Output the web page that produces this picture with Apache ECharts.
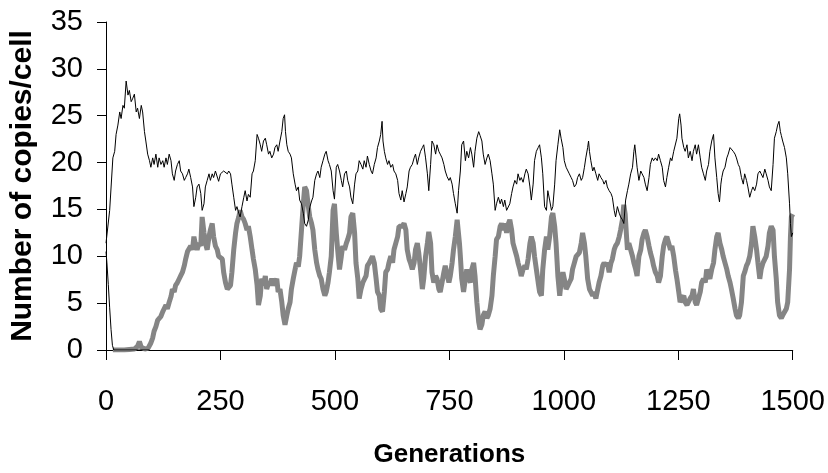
<!DOCTYPE html>
<html><head><meta charset="utf-8">
<script src="https://cdn.jsdelivr.net/npm/echarts@6/dist/echarts.min.js"></script>
<style>html,body{margin:0;padding:0;background:#fff;overflow:hidden}#c{width:828px;height:473px}</style>
</head><body><div id="c"></div>
<script>
// Black series (upper)
var genA = [0,8,15,19,22,26,30,33,37,40,44,48,51,55,58,62,66,69,73,77,80,84,87,91,95,98,102,105,109,113,116,120,124,127,131,134,138,142,145,149,152,156,160,163,167,171,174,178,181,185,189,192,196,199,203,207,210,214,217,221,225,228,232,235,239,243,246,250,257,261,265,268,272,275,279,283,286,290,293,297,301,304,308,311,315,319,322,326,330,333,337,340,344,348,351,355,358,362,366,369,373,376,380,384,387,390,392,395,398,402,405,409,413,416,420,423,427,431,434,438,442,445,449,452,456,460,463,467,470,474,478,481,485,488,492,496,499,503,506,510,514,517,521,525,528,532,535,539,543,546,550,553,557,561,564,568,571,575,579,582,586,590,593,597,600,603,605,608,611,615,618,622,626,629,633,637,640,644,647,651,655,658,662,665,669,673,676,680,683,687,691,694,698,702,705,709,712,716,720,723,727,730,734,738,741,745,749,752,756,759,763,767,770,774,777,781,785,788,792,796,799,803,806,810,814,817,821,824,828,832,835,839,843,846,850,853,857,861,864,868,871,875,879,882,886,889,893,897,900,904,907,911,915,918,922,926,929,933,936,940,944,947,951,954,958,962,965,969,973,976,980,983,987,991,994,998,1001,1005,1009,1012,1016,1019,1023,1027,1030,1034,1038,1041,1045,1048,1052,1054,1056,1059,1063,1066,1070,1074,1077,1081,1085,1088,1092,1095,1099,1103,1106,1110,1113,1117,1121,1124,1128,1131,1135,1139,1142,1146,1150,1153,1155,1158,1160,1164,1168,1171,1175,1178,1182,1186,1189,1193,1196,1200,1204,1207,1211,1215,1218,1222,1225,1229,1233,1236,1240,1244,1247,1251,1253,1256,1258,1262,1265,1269,1272,1276,1280,1283,1287,1290,1294,1298,1301,1305,1309,1312,1316,1319,1323,1327,1330,1334,1337,1340,1343,1345,1348,1352,1356,1359,1363,1366,1370,1374,1377,1381,1384,1388,1392,1395,1399,1402,1406,1410,1413,1417,1421,1424,1428,1431,1435,1439,1442,1446,1449,1453,1457,1460,1464,1467,1470,1473,1475,1478,1482,1486,1489,1493,1495,1497,1500];
var valA = [11.4,14.9,20.5,21.2,23.0,24.0,25.4,24.7,26.1,25.8,28.7,27.2,27.7,26.5,26.8,27.3,25.4,25.8,24.7,26.1,25.4,23.3,22.3,20.9,20.2,19.5,20.5,19.8,20.9,19.5,20.5,19.8,20.2,19.5,20.5,19.8,20.9,20.2,18.8,18.1,19.1,19.8,20.2,19.1,18.8,18.1,18.4,18.8,19.3,18.4,17.4,15.3,16.3,17.4,17.7,16.7,14.9,15.6,17.4,18.1,18.8,18.1,18.8,18.4,19.1,19.3,18.0,18.8,19.1,19.3,18.8,19.1,18.8,17.7,16.3,14.9,15.3,14.6,14.2,15.3,16.3,17.0,15.9,16.6,16.3,18.8,19.1,20.2,23.0,22.6,21.9,21.2,22.3,22.6,21.9,20.9,21.2,20.5,20.9,21.6,21.9,21.2,22.3,23.3,24.7,25.1,23.3,21.9,21.2,20.9,20.5,18.8,17.7,17.0,17.4,16.0,15.6,14.6,13.5,13.2,13.9,15.2,15.9,16.3,18.1,18.8,19.1,18.4,19.5,20.2,20.9,21.2,20.2,19.8,19.1,17.0,16.1,19.5,19.8,19.1,18.1,17.4,18.8,19.1,18.1,17.4,16.3,15.6,17.7,18.8,19.1,20.2,19.8,19.3,20.2,19.5,20.7,19.8,19.1,18.8,19.8,20.5,21.6,22.3,23.0,24.4,22.3,21.2,20.5,19.8,20.2,19.5,19.8,19.1,18.8,18.1,16.7,16.0,17.0,15.8,16.7,17.4,19.1,19.5,19.8,20.5,20.9,19.8,20.5,21.2,21.6,21.9,20.5,18.8,17.0,19.8,22.3,21.9,20.9,21.9,21.2,20.9,20.5,19.8,19.1,18.5,18.1,18.4,17.7,16.7,15.6,14.6,17.0,19.1,21.9,22.3,20.2,21.2,20.5,21.6,20.9,19.5,21.2,22.6,23.3,22.9,22.3,20.9,19.8,20.5,20.9,20.2,18.8,17.7,14.9,15.6,16.3,15.6,16.1,15.3,16.0,14.9,14.7,15.6,16.7,17.4,18.1,17.7,18.8,18.1,18.4,17.9,18.8,19.3,18.8,17.4,16.0,17.7,20.2,21.2,21.6,21.9,20.5,18.8,15.3,14.9,17.0,16.0,14.9,15.3,17.7,20.2,21.9,23.5,22.6,21.6,20.2,19.5,19.1,18.8,18.4,18.1,17.4,17.7,18.4,18.8,18.1,18.4,19.5,20.5,21.6,22.3,21.2,20.2,19.1,19.5,18.8,18.1,18.8,18.4,18.1,17.7,18.1,17.4,17.0,16.7,16.3,14.9,14.2,15.3,14.6,14.2,13.9,13.5,16.0,17.0,17.7,18.8,19.5,21.2,21.9,20.5,19.5,18.1,19.1,18.8,18.4,17.7,17.0,18.4,19.8,20.5,20.2,20.5,20.2,20.9,20.2,19.5,18.1,17.4,18.4,19.5,20.5,20.2,21.2,21.0,22.6,24.7,25.2,24.0,22.6,21.6,21.2,21.9,20.5,21.2,20.2,21.2,21.9,20.9,21.9,20.5,19.5,18.8,18.1,19.1,19.8,21.2,22.3,23.0,20.5,18.4,16.7,15.8,17.7,18.4,19.1,19.5,20.5,20.9,21.6,21.7,21.2,20.9,20.5,19.8,19.5,18.4,17.7,18.8,18.1,17.4,16.3,17.0,17.4,17.0,17.7,18.8,19.1,18.8,18.4,19.3,18.8,18.1,17.4,17.0,19.8,22.6,23.3,24.0,24.4,23.3,22.9,22.3,21.6,20.5,18.8,15.6,13.5,12.1,12.5];

// Gray series (lower, thick)
var genB = [15,40,62,69,73,77,85,92,98,102,105,109,113,116,120,124,127,131,134,138,142,145,149,152,156,160,163,167,171,174,178,181,185,189,192,196,199,203,207,210,214,217,221,225,228,232,235,239,243,246,250,254,257,261,265,268,272,275,279,283,286,290,293,297,301,304,308,311,315,319,322,326,330,333,337,340,344,348,351,355,358,362,366,369,373,376,380,384,387,391,395,398,402,405,409,413,416,420,423,427,431,434,438,442,445,449,452,456,460,463,467,470,474,478,481,485,488,492,496,499,503,506,510,514,517,521,525,528,532,535,539,543,546,550,553,557,561,564,568,571,575,579,582,586,590,593,597,600,604,608,611,615,618,622,626,629,633,637,640,644,647,651,655,658,662,665,669,673,676,680,683,687,691,694,698,702,705,709,712,716,720,723,727,730,734,738,741,745,749,752,756,759,763,767,769,772,774,777,781,785,788,792,796,799,803,806,810,814,817,821,824,828,832,835,839,843,846,850,853,857,861,864,868,871,875,879,882,886,889,893,897,900,904,907,911,915,918,922,926,929,933,936,940,944,947,951,954,958,962,965,969,973,976,980,983,987,991,994,998,1001,1005,1009,1012,1016,1019,1023,1027,1030,1034,1038,1041,1045,1048,1052,1056,1059,1063,1066,1070,1074,1077,1081,1085,1088,1092,1095,1099,1103,1106,1110,1113,1117,1121,1124,1128,1131,1134,1137,1139,1142,1146,1150,1153,1157,1160,1164,1168,1171,1175,1178,1182,1186,1189,1193,1196,1200,1204,1207,1211,1215,1218,1222,1225,1229,1233,1236,1240,1244,1247,1251,1254,1258,1262,1265,1269,1272,1276,1280,1283,1287,1290,1294,1298,1301,1305,1309,1312,1316,1319,1323,1327,1330,1334,1337,1341,1345,1348,1352,1356,1359,1363,1366,1370,1374,1377,1381,1384,1388,1392,1395,1399,1402,1406,1410,1413,1417,1421,1424,1428,1431,1435,1439,1442,1446,1449,1453,1457,1460,1464,1467,1471,1475,1478,1482,1486,1489,1493,1495,1497,1500];
var valB = [0,0,0.1,0.4,0.9,0.3,0.1,0.2,0.75,1.3,2.0,2.5,3.2,3.0,3.6,4.1,4.4,4.8,4.4,5.1,5.7,6.5,6.2,6.9,7.2,7.6,7.9,8.3,9.0,9.7,10.5,10.3,11.1,10.7,12.1,11.1,10.7,11.4,11.1,14.2,12.5,11.4,10.7,12.1,12.8,13.5,12.1,11.1,10.7,10.0,10.0,9.7,8.3,7.2,6.5,6.5,6.9,8.3,10.7,12.5,13.5,14.2,14.9,14.2,13.9,13.5,12.8,13.2,12.1,10.7,9.7,8.6,6.9,4.8,5.8,7.6,6.9,7.9,6.5,7.2,6.9,7.6,6.9,7.2,7.6,6.2,6.5,5.1,3.7,2.7,3.7,4.4,5.1,6.5,7.6,8.6,9.3,8.9,10.0,12.8,15.6,17.4,17.0,15.3,14.2,13.5,12.8,10.7,9.3,8.6,7.9,7.6,6.5,5.8,6.2,7.2,8.3,10.0,14.9,15.6,12.5,10.7,8.6,10.0,11.1,10.7,11.4,11.8,12.5,14.2,14.6,12.5,9.3,7.6,5.5,6.5,7.2,7.2,7.9,9.0,9.3,9.7,10.0,9.3,7.6,6.2,5.8,4.4,4.1,6.2,8.3,8.6,9.3,10.0,9.3,10.7,11.4,12.1,13.2,13.3,13.2,13.5,12.8,10.7,9.7,9.3,8.6,9.3,10.7,11.4,10.4,8.6,6.5,7.6,10.0,11.4,12.6,11.4,8.3,7.2,7.9,7.6,6.5,6.2,7.2,8.3,9.0,8.0,7.2,7.9,9.3,10.7,12.1,13.9,14.0,11.4,10.0,7.6,6.2,7.6,8.6,7.6,7.2,8.6,9.3,7.9,5.1,3.0,2.2,2.7,3.7,4.1,3.4,3.7,4.4,5.8,7.9,10.0,11.8,12.1,13.2,13.5,12.8,13.5,12.5,13.5,13.9,12.8,11.4,10.7,10.0,9.3,8.6,7.9,8.6,9.0,8.6,9.7,11.4,12.1,11.4,10.0,8.6,7.2,6.2,5.8,8.6,10.7,12.1,10.7,12.1,14.2,14.6,13.2,11.4,7.9,5.8,7.2,8.3,7.6,6.5,6.9,7.2,7.6,8.6,9.3,10.0,10.0,10.4,11.4,12.5,11.4,10.0,7.6,6.5,6.2,5.8,6.2,5.5,5.5,7.2,7.9,9.0,9.3,9.0,9.3,8.3,9.3,9.7,10.7,11.1,11.4,12.1,12.8,13.9,15.5,14.5,12.1,10.7,11.4,10.7,10.0,9.3,8.6,7.9,10.0,10.7,11.8,12.5,12.8,12.1,11.1,10.4,9.7,9.0,8.3,7.9,7.2,7.9,10.0,11.1,11.8,12.1,11.4,10.7,11.1,10.0,8.5,7.6,6.2,5.1,5.5,5.8,5.1,4.8,5.1,5.5,5.8,6.5,5.1,4.8,5.5,6.2,7.2,7.6,7.2,8.6,7.9,7.6,8.6,9.3,10.7,12.1,12.5,11.4,10.7,10.0,9.3,8.6,7.9,7.2,6.5,5.5,4.4,3.7,3.4,3.7,5.1,7.9,8.3,9.0,9.3,10.0,11.4,13.2,12.1,10.7,9.3,7.6,8.6,9.3,9.7,10.0,11.1,12.5,13.2,12.8,10.0,7.6,5.1,3.7,3.4,3.7,3.5,4.4,5.1,8.6,12.1,14.2,14.5];

// Thin black line that falls to zero at the start
var genC = [0,2,5,8,11,14,17,95];
var valC = [10.5,9.3,7.0,4.5,2.2,0.5,0,0];

function pairs(g, v) { return g.map(function (x, i) { return [x, v[i]]; }); }

var chart = echarts.init(document.getElementById('c'), null, {renderer: 'canvas'});
var font = '"Liberation Sans", Arial, sans-serif';
chart.setOption({
  animation: false,
  backgroundColor: '#ffffff',
  grid: {left: 103, right: 34, top: 22, bottom: 117.5, containLabel: false},
  xAxis: {
    type: 'value', min: 0, max: 1500, interval: 250,
    name: 'Generations', nameLocation: 'middle', nameGap: 92,
    nameTextStyle: {fontFamily: font, fontWeight: 'bold', fontSize: 26, color: '#000'},
    axisLine: {show: true, lineStyle: {color: '#000', width: 1}},
    axisTick: {show: true, inside: false, length: 10, lineStyle: {color: '#000'}},
    axisLabel: {margin: 37, fontFamily: font, fontSize: 29, color: '#000',
      formatter: function (v) { return String(v); }},
    splitLine: {show: false}
  },
  yAxis: {
    type: 'value', min: 0, max: 35, interval: 5,
    name: 'Number of copies/cell', nameLocation: 'middle', nameGap: 68,
    nameTextStyle: {fontFamily: font, fontWeight: 'bold', fontSize: 30, color: '#000'},
    axisLine: {show: true, lineStyle: {color: '#000', width: 1}},
    axisTick: {show: true, inside: false, length: 9, lineStyle: {color: '#000'}},
    axisLabel: {margin: 23, fontFamily: font, fontSize: 29, color: '#000'},
    splitLine: {show: false}
  },
  series: [
    {type: 'line', data: pairs(genB, valB), showSymbol: false, symbol: 'none',
     lineStyle: {color: '#858585', width: 5}, z: 2},
    {type: 'line', data: pairs(genC, valC), showSymbol: false, symbol: 'none',
     lineStyle: {color: '#000', width: 1}, z: 3},
    {type: 'line', data: pairs(genA, valA), showSymbol: false, symbol: 'none',
     lineStyle: {color: '#000', width: 1}, z: 4}
  ]
});
</script></body></html>
